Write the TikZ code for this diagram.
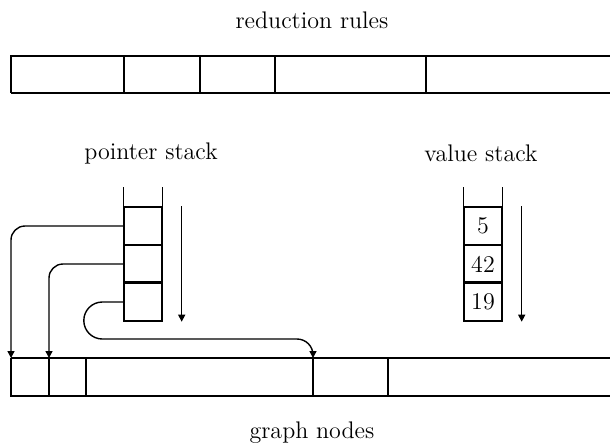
\documentclass[tikz,border=0pt]{standalone}
\usepackage{fontspec}
\usepackage{tikz}
\usetikzlibrary{arrows.meta}

\tikzset{
  bar/.style={line width=0.7pt},
  heavy/.style={line width=1.2pt},
  cell/.style={draw, line width=0.7pt, minimum size=19pt, inner sep=0pt},
  link/.style={line width=0.7pt, -{Triangle[length=3.5pt,width=3.5pt]}},
  push/.style={line width=0.7pt, -{Triangle[length=3.5pt,width=3.5pt]}},
  title/.style={font=\large},
}

\begin{document}
\begin{tikzpicture}[x=0.5pt,y=-0.5pt,node distance=19pt]
\useasboundingbox (0,0) rectangle (610,447);

% labels
\node [title] (rr) at (312,20)  {\addfontfeature{LetterSpace=3}reduction rules};
\node [title] (ps) at (151,153) {\addfontfeature{LetterSpace=12}pointer stack};
\node [title] (vs) at (481,153) {value stack};
\node [title] (gn) at (312,433) {\addfontfeature{LetterSpace=3}graph nodes};

% reduction rules bar
\draw [bar] (610,56) -- (11,56) -- (11,93);
\draw [heavy] (11,93) -- (610,93);
\foreach \x in {124,200,275}
  \draw [bar] (\x,56) -- (\x,93);
\draw [heavy] (426,56) -- (426,93);

% graph nodes bar
\draw [heavy] (11,358) -- (610,358);
\draw [bar] (11,358) -- (11,396) -- (610,396);
\foreach \x in {49,313}
  \draw [bar] (\x,358) -- (\x,396);
\foreach \x in {86,388}
  \draw [heavy] (\x,358) -- (\x,396);
\coordinate (g0) at (11,358);
\coordinate (g1) at (49,358);
\coordinate (g3) at (313,358);

% pointer stack
\node [cell] (p0) at (143,226) {};
\node [cell, below of=p0] (p1) {};
\node [cell, below of=p1] (p2) {};
\draw [bar] (p0.north west) -- ++(0,-19);
\draw [bar] (p0.north east) -- ++(0,-19);
\draw [heavy] (p2.north west) -- (p2.north east);
\draw [push] ([xshift=9.5pt]p0.north east) -- ([xshift=9.5pt]p2.south east);

% value stack
\node [cell, font=\large] (v0) at (483,226) {5};
\node [cell, font=\large, below of=v0] (v1) {42};
\node [cell, font=\large, below of=v1] (v2) {19};
\draw [bar] (v0.north west) -- ++(0,-19);
\draw [bar] (v0.north east) -- ++(0,-19);
\draw [heavy] (v2.north west) -- (v2.north east);
\draw [push] ([xshift=9.5pt]v0.north east) -- ([xshift=9.5pt]v2.south east);

% pointers into the graph
\draw [link, rounded corners=7pt] (p0.west) -| (g0);
\draw [link, rounded corners=7pt] (p1.west) -| (g1);
\draw [link] (p2.west) -- ++(-21,0)
  arc [start angle=270, end angle=90, radius=18.5]
  [rounded corners=8pt] -| (g3);
\end{tikzpicture}
\end{document}
